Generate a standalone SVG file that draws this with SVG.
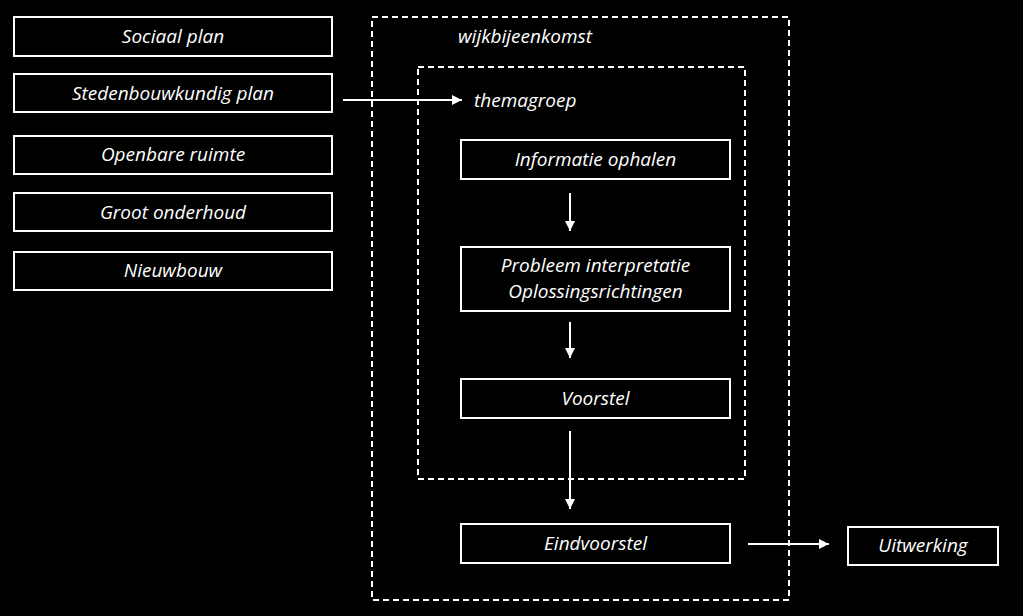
<svg xmlns="http://www.w3.org/2000/svg" width="1023" height="616" viewBox="0 0 1023 616">
<style>
.box{fill:#000;stroke:#fff;stroke-width:2}
.dash{fill:none;stroke:#fff;stroke-width:2;stroke-dasharray:6 4}
.t{font-family:"Open Sans","Liberation Sans",sans-serif;font-style:italic;font-size:19px;fill:#fff;text-anchor:middle}
.tl{text-anchor:start}
.c{stroke:#fff;stroke-width:2;fill:none;marker-end:url(#ah)}
</style>
<defs>
<marker id="ah" viewBox="0 0 10 10" refX="10" refY="5" markerWidth="10" markerHeight="10" markerUnits="userSpaceOnUse" orient="auto">
<path d="M0,0 L10,5 L0,10 z" fill="#fff"/>
</marker>
</defs>
<rect width="1023" height="616" fill="#000"/>
<g id="wijkbijeenkomst">
<rect class="dash" x="372" y="17" width="417" height="583"/>
<text class="t tl" x="458" y="43">wijkbijeenkomst</text>
</g>
<g id="themagroep">
<rect class="dash" x="418" y="67" width="327" height="412"/>
<text class="t tl" x="474" y="107">themagroep</text>
</g>
<g id="sociaal"><rect class="box" x="14" y="17" width="318" height="39"/><text class="t" x="173" y="43">Sociaal plan</text></g>
<g id="stedenbouw"><rect class="box" x="14" y="74" width="318" height="38"/><text class="t" x="173" y="100">Stedenbouwkundig plan</text></g>
<g id="openbare"><rect class="box" x="14" y="136" width="318" height="38"/><text class="t" x="173" y="161">Openbare ruimte</text></g>
<g id="groot"><rect class="box" x="14" y="193" width="318" height="38"/><text class="t" x="173" y="219">Groot onderhoud</text></g>
<g id="nieuwbouw"><rect class="box" x="14" y="252" width="318" height="38"/><text class="t" x="173" y="277">Nieuwbouw</text></g>
<g id="informatie"><rect class="box" x="461" y="140" width="269" height="39"/><text class="t" x="595.5" y="166">Informatie ophalen</text></g>
<g id="probleem"><rect class="box" x="461" y="247" width="269" height="64"/><text class="t" x="595.5" y="272">Probleem interpretatie</text><text class="t" x="595.5" y="298">Oplossingsrichtingen</text></g>
<g id="voorstel"><rect class="box" x="461" y="379" width="269" height="39"/><text class="t" x="595.5" y="405">Voorstel</text></g>
<g id="eindvoorstel"><rect class="box" x="461" y="524" width="269" height="39"/><text class="t" x="595.5" y="550">Eindvoorstel</text></g>
<g id="uitwerking"><rect class="box" x="848" y="527" width="150" height="38"/><text class="t" x="923" y="552">Uitwerking</text></g>
<g id="connectors">
<line class="c" x1="343" y1="100" x2="462" y2="100"/>
<line class="c" x1="570" y1="193" x2="570" y2="231"/>
<line class="c" x1="570" y1="322" x2="570" y2="358"/>
<line class="c" x1="570" y1="431" x2="570" y2="509"/>
<line class="c" x1="748" y1="544" x2="829" y2="544"/>
</g>
</svg>
